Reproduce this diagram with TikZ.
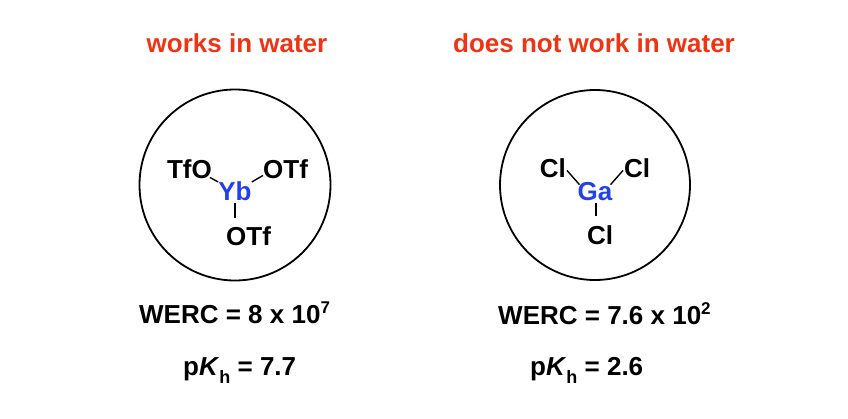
\documentclass[tikz,border=0pt]{standalone}
\usepackage{fontspec}
\setmainfont{Liberation Sans}
\definecolor{titlered}{RGB}{238,52,20}
\definecolor{metalblue}{RGB}{35,65,235}
\newcommand{\supr}[1]{\raisebox{10pt}{\fontsize{17}{17}\selectfont #1}}
\newcommand{\subr}[1]{\raisebox{-8pt}{\fontsize{18}{18}\selectfont #1}}
\begin{document}
\begin{tikzpicture}[x=1pt,y=-1pt,
  txt/.style={inner sep=0pt,font=\fontsize{26}{30}\selectfont\bfseries},
  ttl/.style={txt,text=titlered,anchor=base},
  atom/.style={txt,anchor=base},
  metal/.style={txt,anchor=base,text=metalblue},
  bond/.style={line width=1.4pt},
  ring/.style={draw,circle,line width=1.8pt,inner sep=0pt}]
\useasboundingbox (0,0) rectangle (848,418);
% titles
\node[ttl] (t1) at (237,52) {works in water};
\node[ttl] (t2) at (594,52) {does not work in water};
% circles
\node[ring,minimum size=191pt] (c1) at (235,185) {};
\node[ring,minimum size=190pt] (c2) at (595,185) {};
% Yb(OTf)3
\node[metal] (Yb) at (235,200) {Yb};
\node[atom,anchor=base east] (TfO) at (212,178) {TfO};
\node[atom,anchor=base west] (OTfR) at (263,178) {OTf};
\node[atom,anchor=base west] (OTfB) at (226,245) {OTf};
\draw[bond] ([xshift=-2pt,yshift=1pt]TfO.south east) -- ([yshift=-1pt]Yb.north west);
\draw[bond] ([yshift=-1pt]Yb.north east) -- ([yshift=3pt]OTfR.south west);
\draw[bond] ([yshift=-3pt]Yb.south) -- ([yshift=8pt]Yb.south |- OTfB.north);
% GaCl3
\node[metal] (Ga) at (595,200) {Ga};
\node[atom,anchor=base east] (ClL) at (566,177) {Cl};
\node[atom,anchor=base west] (ClR) at (624,177) {Cl};
\node[atom,anchor=base west] (ClB) at (587,244) {Cl};
\draw[bond] ([xshift=1pt,yshift=7pt]ClL.south east) -- ([xshift=2pt,yshift=-3pt]Ga.north west);
\draw[bond] ([xshift=-2pt,yshift=-3pt]Ga.north east) -- ([xshift=-1pt,yshift=7pt]ClR.south west);
\draw[bond] ([xshift=1pt,yshift=-3pt]Ga.south) -- ([xshift=1pt,yshift=9pt]Ga.south |- ClB.north);
% data
\node[atom,anchor=base west] (w1) at (139,323) {WERC = 8 x 10\supr{7}};
\node[atom,anchor=base west] (w2) at (498,324) {WERC = 7.6 x 10\supr{2}};
\node[atom,anchor=base west] (k1) at (183,375) {p\textit{K}\subr{h} = 7.7};
\node[atom,anchor=base west] (k2) at (530,375) {p\textit{K}\subr{h} = 2.6};
\end{tikzpicture}
\end{document}
